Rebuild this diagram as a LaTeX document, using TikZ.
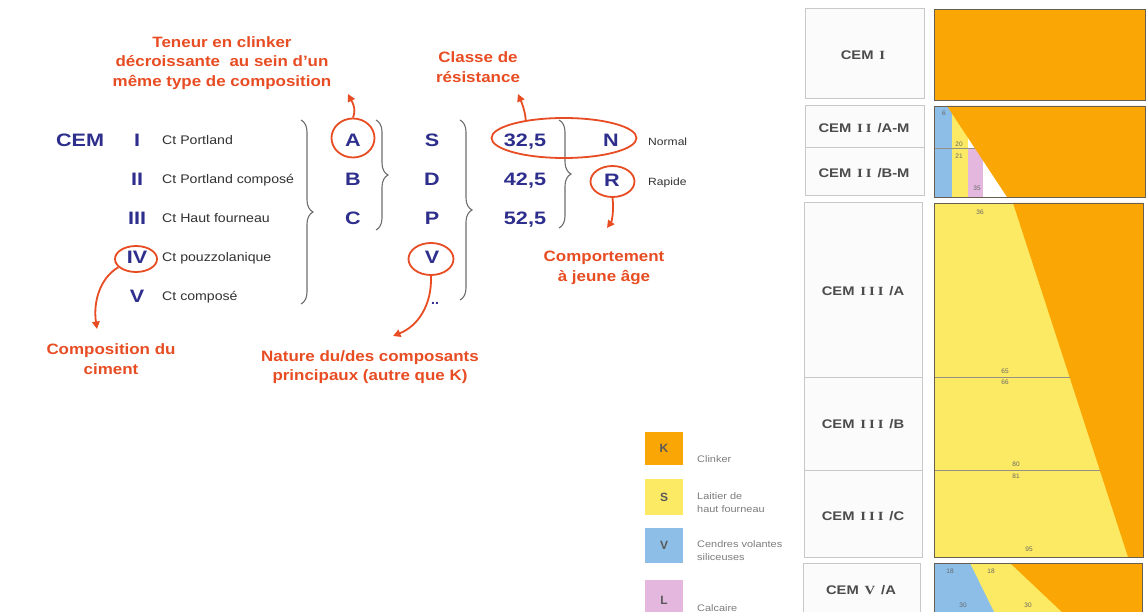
\documentclass[tikz,border=0pt]{standalone}
\usepackage{fontspec}
\setmainfont{Liberation Sans}
\newfontfamily\numfont[LetterSpace=20]{Liberation Serif}
\usetikzlibrary{arrows.meta,decorations.pathreplacing,shapes.geometric}

\definecolor{navy}{RGB}{46,46,140}
\definecolor{annot}{RGB}{232,76,34}
\definecolor{clinker}{RGB}{250,166,5}
\definecolor{laitier}{RGB}{252,234,100}
\definecolor{cendres}{RGB}{140,190,232}
\definecolor{calcaire}{RGB}{228,184,222}
\definecolor{txtgray}{RGB}{50,50,50}
\definecolor{lblgray}{RGB}{75,75,75}
\definecolor{leggray}{RGB}{125,125,125}
\definecolor{boxline}{RGB}{200,200,200}
\definecolor{chartline}{RGB}{105,95,80}
\definecolor{bracegray}{RGB}{110,110,110}

% roman numeral in the chart labels, with wider gaps around it
\newcommand{\rn}[1]{\hspace{0.12em}{\numfont\bfseries #1}\hspace{0.12em}}

\tikzset{
  code/.style={font=\bfseries\fontsize{18}{20}\selectfont, text=navy, xscale=1.2,
    inner sep=0pt, text height=13pt, text depth=0pt},
  desc/.style={font=\fontsize{12.5}{14}\selectfont, text=txtgray, xscale=1.13,
    inner sep=0pt, anchor=west, text height=9pt, text depth=0pt},
  speed/.style={font=\fontsize{10.5}{12}\selectfont, text=txtgray, xscale=1.15,
    inner sep=0pt, anchor=west, text height=7.5pt, text depth=0pt},
  note/.style={font=\bfseries\fontsize{15}{19.5}\selectfont, text=annot, xscale=1.13,
    align=center, inner sep=0pt},
  ring/.style={ellipse, draw=annot, line width=1.8pt, inner sep=0pt},
  arr/.style={draw=annot, line width=1.8pt, -{Triangle[length=7.5pt,width=7.5pt]}},
  brace/.style={decorate, decoration={brace, amplitude=12pt}, draw=bracegray, line width=1.1pt},
  lblbox/.style={draw=boxline, line width=1pt, fill=white!97!gray},
  sep/.style={draw=boxline, line width=1pt},
  frame/.style={draw=chartline, line width=0.8pt},
  split/.style={draw=chartline!70, line width=0.5pt},
  chartlbl/.style={font=\bfseries\fontsize{12.5}{14}\selectfont, text=lblgray, xscale=1.18,
    inner sep=0pt, text height=9pt, text depth=0pt},
  pct/.style={font=\fontsize{6.5}{7}\selectfont, text=black!60, inner sep=0pt},
  legbox/.style={minimum width=38pt, inner sep=0pt,
    font=\bfseries\fontsize{12}{14}\selectfont, text=black!65},
  legtxt/.style={font=\fontsize{9.5}{13}\selectfont, text=leggray, xscale=1.15,
    align=left, inner sep=0pt, anchor=west}
}

\begin{document}
\begin{tikzpicture}[x=1pt,y=-1pt]
\useasboundingbox (0,0) rectangle (1147,612);
\clip (0,0) rectangle (1147,612);
\fill[white] (0,0) rectangle (1147,612);

% ---------- composition charts ----------
% label column
\draw[lblbox] (805,9) rectangle (924,99);
\draw[lblbox] (805,106) rectangle (924,196);
\draw[sep] (805,148) -- (924,148);
\draw[lblbox] (804,203) rectangle (922,557);
\draw[sep] (804,377) -- (922,377);
\draw[sep] (804,470) -- (922,470);
\draw[lblbox] (803,563) rectangle (920,630);

\node[chartlbl] (l1)  at (863,55)  {CEM \rn{I}};
\node[chartlbl] (l2a) at (864,128) {CEM \rn{II} /A-M};
\node[chartlbl] (l2b) at (864,173) {CEM \rn{II} /B-M};
\node[chartlbl] (l3a) at (863,291) {CEM \rn{III} /A};
\node[chartlbl] (l3b) at (863,424) {CEM \rn{III} /B};
\node[chartlbl] (l3c) at (863,516) {CEM \rn{III} /C};
\node[chartlbl] (l5a) at (861,590) {CEM \rn{V} /A};

% CEM I
\fill[clinker] (934,9) rectangle (1145,100);
\draw[frame] (934,9) rectangle (1145,100);

% CEM II
\fill[white] (934,106) rectangle (1145,197);
\fill[cendres] (934,106) rectangle (952,197);
\fill[laitier] (952,106) rectangle (968,197);
\fill[calcaire] (968,148) rectangle (983,197);
\draw[split] (934,148) -- (975,148);
\fill[clinker] (947,106) -- (1145,106) -- (1145,197) -- (1007,197) -- cycle;
\draw[frame] (934,106) rectangle (1145,197);
\node[pct] (p6)  at (944,113) {6};
\node[pct] (p20) at (959,144) {20};
\node[pct] (p21) at (959,156) {21};
\node[pct] (p35) at (977,188) {35};

% CEM III
\fill[laitier] (934,203) rectangle (1143,557);
\fill[clinker] (1013,203) -- (1143,203) -- (1143,557) -- (1128,557) -- cycle;
\draw[split] (934,377) -- (1070,377);
\draw[split] (934,470) -- (1100,470);
\draw[frame] (934,203) rectangle (1143,557);
\node[pct] (p36) at (980,212) {36};
\node[pct] (p65) at (1005,371) {65};
\node[pct] (p66) at (1005,382) {66};
\node[pct] (p80) at (1016,464) {80};
\node[pct] (p81) at (1016,476) {81};
\node[pct] (p95) at (1029,549) {95};

% CEM V
\fill[cendres] (934,563) rectangle (1142,630);
\fill[laitier] (970,563) -- (1142,563) -- (1142,630) -- (1003,630) -- cycle;
\fill[clinker] (1010,563) -- (1142,563) -- (1142,630) -- (1081,630) -- cycle;
\draw[frame] (934,563) rectangle (1142,630);
\node[pct] (p18a) at (950,571) {18};
\node[pct] (p18b) at (991,571) {18};
\node[pct] (p30a) at (963,605) {30};
\node[pct] (p30b) at (1028,605) {30};

% ---------- legend ----------
\node[legbox, fill=clinker,  minimum height=33pt] (lk) at (664,448.5) {K};
\node[legbox, fill=laitier,  minimum height=36pt] (ls) at (664,497) {S};
\node[legbox, fill=cendres,  minimum height=35pt] (lv) at (664,545.5) {V};
\node[legbox, fill=calcaire, minimum height=40pt] (ll) at (664,600) {L};
\node[legtxt] (tk) at (697,459) {Clinker};
\node[legtxt] (ts) at (697,503) {Laitier de\\haut fourneau};
\node[legtxt] (tv) at (697,551) {Cendres volantes\\siliceuses};
\node[legtxt] (tl) at (697,608) {Calcaire};

% ---------- notation ----------
\node[code] (cem) at (80,140) {CEM};
\node[code] (n1) at (137,140) {I};
\node[code] (n2) at (137,179) {II};
\node[code] (n3) at (137,218) {III};
\node[code] (n4) at (137,257) {IV};
\node[code] (n5) at (137,296) {V};
\node[desc] (d1) at (162,140) {Ct Portland};
\node[desc] (d2) at (162,179) {Ct Portland composé};
\node[desc] (d3) at (162,218) {Ct Haut fourneau};
\node[desc] (d4) at (162,257) {Ct pouzzolanique};
\node[desc] (d5) at (162,296) {Ct composé};

\coordinate (b1t) at (301,120); \coordinate (b1b) at (301,304);
\draw[brace] (b1t) -- (b1b);

\node[code] (ca) at (353,140) {A};
\node[code] (cb) at (353,179) {B};
\node[code] (cc) at (353,218) {C};

\coordinate (b2t) at (376,120); \coordinate (b2b) at (376,230);
\draw[brace] (b2t) -- (b2b);

\node[code] (cs) at (432,140) {S};
\node[code] (cd) at (432,179) {D};
\node[code] (cp) at (432,218) {P};
\node[code] (cv) at (432,257) {V};
\node[font=\bfseries\fontsize{14}{16}\selectfont, text=navy, inner sep=0pt, anchor=base] (dots) at (435,304) {..};

\coordinate (b3t) at (460,120); \coordinate (b3b) at (460,300);
\draw[brace] (b3t) -- (b3b);

\node[code] (r1) at (525,140) {32,5};
\node[code] (r2) at (525,179) {42,5};
\node[code] (r3) at (525,218) {52,5};

\coordinate (b4t) at (559,120); \coordinate (b4b) at (559,228);
\draw[brace] (b4t) -- (b4b);

\node[code] (cn) at (611,140) {N};
\node[code] (cr) at (612,180) {R};
\node[speed] (sn) at (648,142) {Normal};
\node[speed] (sr) at (648,182) {Rapide};

% ---------- annotations ----------
\node[ring, minimum width=43pt, minimum height=39pt] (ringA) at (353,138) {};
\node[ring, minimum width=145pt, minimum height=40pt] (ringCN) at (564,138) {};
\node[ring, minimum width=44pt, minimum height=31pt] (ringR) at (612.5,181.5) {};
\node[ring, minimum width=42pt, minimum height=26pt] (ringIV) at (136,259) {};
\node[ring, minimum width=45pt, minimum height=32pt] (ringV) at (431,259) {};

\node[note] (noteA) at (222,63) {Teneur en clinker\\décroissante~ au sein d'un\\même type de composition};
\node[note] (noteC) at (478,67) {Classe de\\résistance};
\node[note] (noteR) at (604,268) {Comportement\\à jeune âge};
\node[note] (noteIV) at (111,359) {Composition du\\ciment};
\node[note] (noteV) at (370,367) {Nature du/des composants\\principaux (autre que K)};

\coordinate (tipA) at (348,94);
\coordinate (tipC) at (518,94);
\coordinate (tipR) at (607,228);
\coordinate (tipIV) at (97,329);
\coordinate (tipV) at (393,336);

\draw[arr] (ringA.north) .. controls (357,108) and (351,100) .. (tipA);
\draw[arr] (ringCN.155) .. controls (525,110) and (521,101) .. (tipC);
\draw[arr] (ringR.south) .. controls (614,210) and (612,221) .. (tipR);
\draw[arr] (ringIV.205) .. controls (100,278) and (93,302) .. (tipIV);
\draw[arr] (ringV.south) .. controls (432,305) and (418,326) .. (tipV);
\end{tikzpicture}
\end{document}
